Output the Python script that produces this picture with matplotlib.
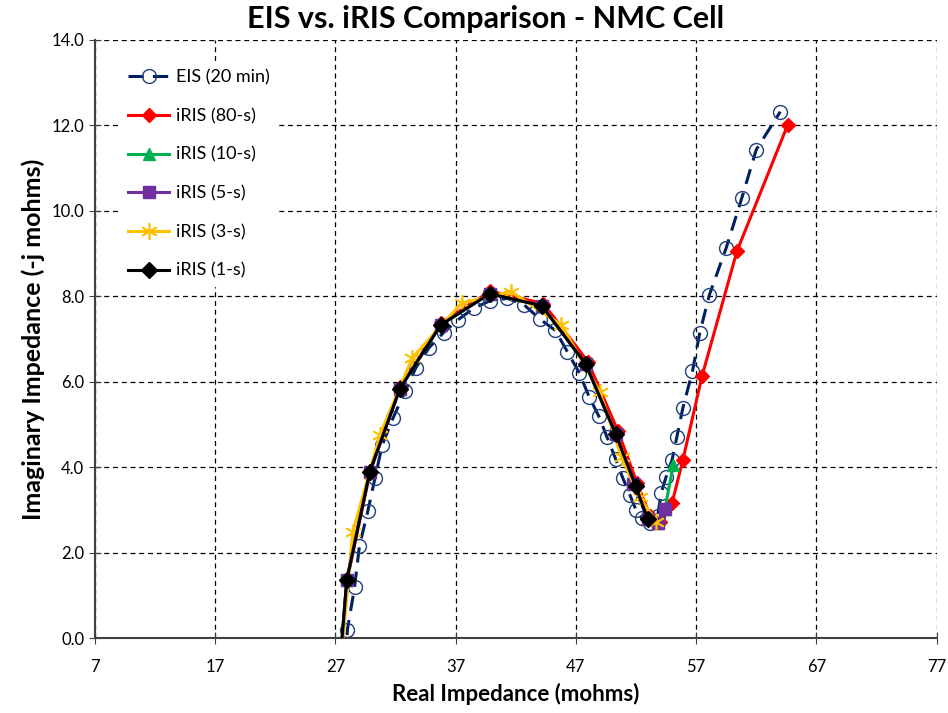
import numpy as np
import matplotlib
matplotlib.use("Agg")
import matplotlib.pyplot as plt

plt.rcParams['font.family'] = ['Lato', 'DejaVu Sans']

# EIS (20 min)
eis_x = [27.9, 28.0, 28.6, 29.0, 29.7, 30.3, 30.9, 31.8, 32.8, 33.7, 34.8, 36.0, 37.2, 38.5,
         39.9, 41.3, 42.7, 44.0, 45.3, 46.3, 47.3, 48.1, 48.9, 49.6, 50.3, 50.9, 51.5,
         52.0, 52.5, 53.2, 53.8, 54.1, 54.5, 55.0, 55.4, 55.9, 56.7, 57.3, 58.1, 59.5,
         60.8, 62.0, 64.0]
eis_y = [-0.5, 0.19, 1.19, 2.15, 2.97, 3.75, 4.52, 5.15, 5.78, 6.33, 6.80, 7.15, 7.45, 7.72,
         7.90, 7.95, 7.80, 7.47, 7.20, 6.70, 6.20, 5.65, 5.20, 4.70, 4.20, 3.75, 3.35,
         3.00, 2.80, 2.70, 2.85, 3.40, 3.77, 4.17, 4.71, 5.39, 6.25, 7.14, 8.03, 9.13,
         10.30, 11.43, 12.32]

# iRIS (80-s)
r80_x = [27.5, 28.0, 29.9, 32.4, 35.8, 39.9, 44.3, 48.0, 50.5, 52.1, 53.2, 54.0, 55.0,
         55.9, 57.5, 60.4, 64.6]
r80_y = [-0.4, 1.38, 3.90, 5.87, 7.38, 8.12, 7.83, 6.47, 4.85, 3.62, 2.85, 2.72, 3.16,
         4.17, 6.14, 9.06, 12.0]

# iRIS (10-s)
r10_x = [27.45, 27.95, 29.86, 32.35, 35.76, 39.83, 44.16, 47.81, 50.31, 51.75, 53.0,
         53.8, 54.4, 55.1]
r10_y = [-0.4, 1.36, 3.89, 5.83, 7.33, 8.06, 7.78, 6.42, 4.78, 3.60, 2.78, 2.70, 3.02, 4.05]

# iRIS (5-s)
r5_x = [27.45, 27.95, 29.86, 32.35, 35.76, 39.83, 44.16, 47.81, 50.31, 51.75, 53.0,
        53.8, 54.4]
r5_y = [-0.4, 1.36, 3.89, 5.83, 7.33, 8.06, 7.78, 6.42, 4.78, 3.60, 2.78, 2.70, 3.02]

# iRIS (3-s)
r3_x = [27.5, 28.45, 30.7, 33.4, 37.5, 41.6, 45.8, 49.0, 50.8, 52.3, 53.7]
r3_y = [-0.4, 2.48, 4.75, 6.56, 7.84, 8.11, 7.33, 5.76, 4.24, 3.30, 2.72]

# iRIS (1-s)
r1_x = [27.45, 27.95, 29.86, 32.35, 35.76, 39.83, 44.16, 47.81, 50.31, 51.97, 52.97]
r1_y = [-0.4, 1.36, 3.89, 5.83, 7.33, 8.06, 7.78, 6.42, 4.78, 3.56, 2.79]

x_ticks = [7, 17, 27, 37, 47, 57, 67, 77]
y_ticks = [0, 2, 4, 6, 8, 10, 12, 14]

fig = plt.figure(figsize=(9.48, 7.13), dpi=100)
ax = fig.add_axes([0.100, 0.105, 0.888, 0.839])

ax.plot(eis_x, eis_y, color="#002060", ls=(0, (5, 3)), lw=2.2, marker="o", ms=10,
        mfc="none", mec="#1F3F7A", mew=1.0, label="EIS (20 min)", zorder=2)
ax.plot(r80_x, r80_y, color="#FF0000", lw=2.2, marker="D", ms=7,
        label="iRIS (80-s)", zorder=3)
ax.plot(r10_x, r10_y, color="#00B050", lw=2.2, marker="^", ms=9,
        label="iRIS (10-s)", zorder=4)
ax.plot(r5_x, r5_y, color="#7030A0", lw=2.2, marker="s", ms=9,
        label="iRIS (5-s)", zorder=5)
ax.plot(r3_x, r3_y, color="#FFC000", lw=2.2, marker=(6, 2, 0), ms=12, mew=1.2,
        label="iRIS (3-s)", zorder=6)
ax.plot(r1_x, r1_y, color="black", lw=2.2, marker="D", ms=8,
        label="iRIS (1-s)", zorder=7)

ax.set_xlim(7, 77)
ax.set_ylim(0, 14)
ax.set_xticks(x_ticks)
ax.set_yticks(y_ticks)
ax.set_yticklabels(["%.1f" % v for v in y_ticks])
ax.tick_params(axis="both", labelsize=12, direction="inout", length=8, color="#404040")
ax.tick_params(axis="x", pad=11)
ax.grid(True, color="black", ls=(0, (4, 3)), lw=0.9)
ax.set_axisbelow(True)
for s in ["top", "right"]:
    ax.spines[s].set_visible(False)
for s in ["left", "bottom"]:
    ax.spines[s].set_color("#404040")
    ax.spines[s].set_linewidth(1.5)

fig.suptitle("EIS vs. iRIS Comparison - NMC Cell", x=0.512, y=0.993, fontsize=22,
             fontweight="bold", va="top")
ax.set_xlabel("Real Impedance (mohms)", fontsize=16, fontweight="bold", labelpad=6)
ax.set_ylabel("Imaginary Impedance (-j mohms)", fontsize=18, fontweight="bold", labelpad=5)

leg = ax.legend(loc="upper left", bbox_to_anchor=(0.02, 0.978), frameon=True,
                fontsize=13, handlelength=2.3, handletextpad=0.35, labelspacing=1.25,
                borderpad=0.4)
leg.get_frame().set_facecolor("white")
leg.get_frame().set_edgecolor("white")
leg.get_frame().set_alpha(1)

fig.savefig("out.png", dpi=100)
